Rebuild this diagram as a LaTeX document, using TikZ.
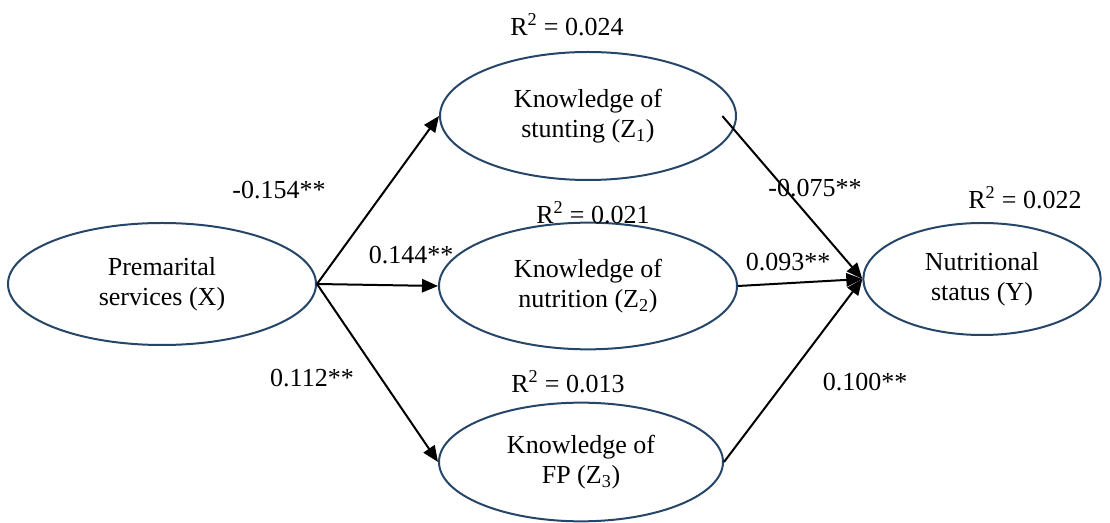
\documentclass[tikz,border=0pt]{standalone}
\usepackage{fontspec}
\setmainfont{Liberation Serif}
\usetikzlibrary{shapes.geometric,arrows.meta}
\definecolor{ellblue}{RGB}{38,70,105}
\tikzset{
  latent/.style={ellipse, draw=ellblue, line width=1.5pt, inner sep=0pt, align=center,
    font=\fontsize{19.5}{22.5}\selectfont},
  lbl/.style={font=\fontsize{19.5}{22.5}\selectfont, inner sep=0pt},
  path/.style={line width=1.5pt, -{Triangle[length=12pt,width=10pt]}}
}
\begin{document}
\begin{tikzpicture}[x=0.75pt,y=-0.75pt]
\useasboundingbox (0,0) rectangle (1110,523);
\node[latent, minimum width=231pt, minimum height=91.5pt] (X) at (162,284) {Premarital\\services (X)};
\node[latent, minimum width=222pt, minimum height=96pt] (Z1) at (588,116) {Knowledge of\\stunting (Z\textsubscript{1})};
\node[latent, minimum width=223.5pt, minimum height=95pt] (Z2) at (588,286) {Knowledge of\\nutrition (Z\textsubscript{2})};
\node[latent, minimum width=213pt, minimum height=89pt] (Z3) at (581,462) {Knowledge of\\FP (Z\textsubscript{3})};
\node[latent, minimum width=178pt, minimum height=84pt] (Y) at (982,279) {Nutritional\\status (Y)};

\draw[path] (X.east) -- (Z1.west);
\draw[path] (X.east) -- (Z2.west);
\draw[path] (X.east) -- (Z3.west);
\draw[path] ([xshift=-11]Z1.east) -- (Y.west);
\draw[path] (Z2.east) -- (Y.west);
\draw[path] (Z3.east) -- (Y.west);

\node[lbl] (r1) at (567,25) {R\textsuperscript{2} = 0.024};
\node[lbl] (r2) at (593,213) {R\textsuperscript{2} = 0.021};
\node[lbl] (r3) at (568,382) {R\textsuperscript{2} = 0.013};
\node[lbl] (r4) at (1025,198) {R\textsuperscript{2} = 0.022};
\node[lbl] (c1) at (279,190) {-0.154**};
\node[lbl] (c2) at (411,255) {0.144**};
\node[lbl] (c3) at (312,378) {0.112**};
\node[lbl] (c4) at (815,188) {-0.075**};
\node[lbl] (c5) at (788,262) {0.093**};
\node[lbl] (c6) at (865,382) {0.100**};
\end{tikzpicture}
\end{document}
